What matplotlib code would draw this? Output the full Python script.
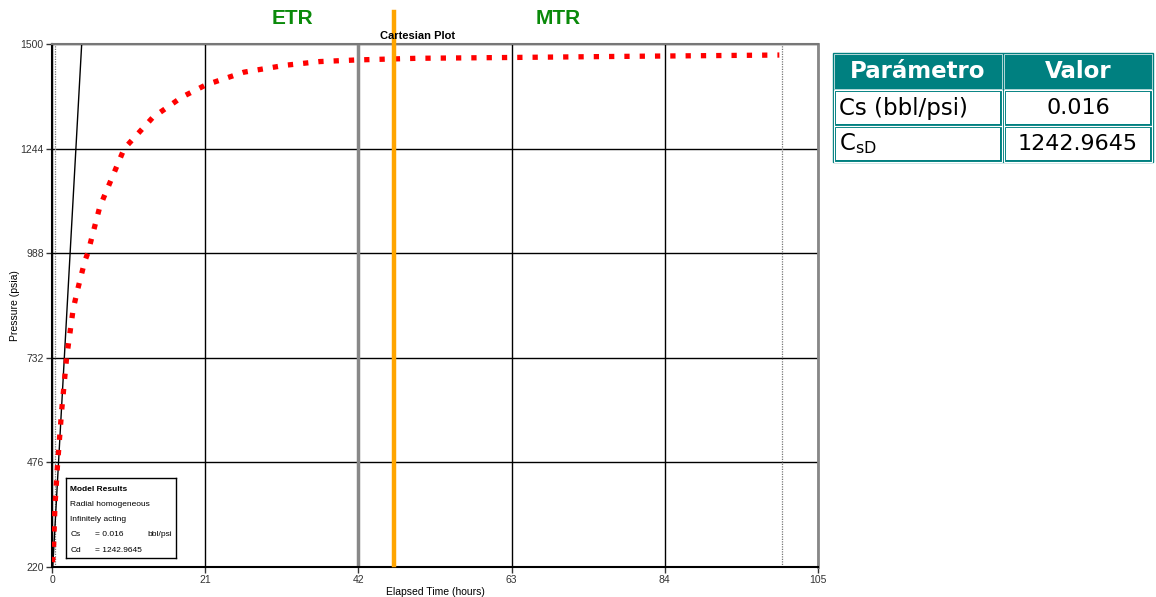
import matplotlib.pyplot as plt
from matplotlib.patches import Rectangle

plt.rcParams['font.family'] = ['Liberation Sans', 'DejaVu Sans']

# pressure buildup
t_hours = [0.05, 0.18, 0.4, 0.78, 1.33, 2.0, 2.9, 3.5, 4.5, 4.9, 6.5, 7.1, 9.9,
           13.8, 17.8, 21.1, 26.3, 27.6, 32.0, 36.7, 41.8, 50.0, 62.8, 80.0, 99.7]
pressure = [232, 249, 368, 476, 604, 732, 851, 898, 969, 988, 1098, 1125, 1244,
            1320, 1370, 1400, 1431, 1435, 1448, 1457, 1461, 1465, 1467, 1470, 1473]

# unit slope line
slope_t = [0.1, 4.07]
slope_p = [220, 1500]

x_ticks = [0, 21, 42, 63, 84, 105]
y_ticks = [220, 476, 732, 988, 1244, 1500]
t_etr_mtr = 46.9
dotted_marks = [0.4, 100.0]

table_head = ['Parámetro', 'Valor']
table_rows = [['Cs (bbl/psi)', '0.016'], ['C$_{\\mathregular{sD}}$', '1242.9645']]

W, H = 1156, 597
fig = plt.figure(figsize=(W / 100, H / 100), dpi=100)
ax = fig.add_axes([52 / W, 1 - 567 / H, (818 - 52) / W, (567 - 44) / H])

ax.set_xlim(0, 105)
ax.set_ylim(220, 1500)
ax.set_xticks(x_ticks)
ax.set_yticks(y_ticks)
ax.grid(True, color='black', lw=1)
ax.tick_params(labelsize=7.5, length=4, width=1, colors='#333333', pad=2)
ax.set_xlabel('Elapsed Time (hours)', fontsize=7.5, labelpad=1)
ax.set_ylabel('Pressure (psia)', fontsize=7.5, labelpad=0)
for s in ['left', 'bottom']:
    ax.spines[s].set_linewidth(1.5)
ax.spines['top'].set_color('#777777')
ax.spines['top'].set_linewidth(1.5)
ax.spines['right'].set_color('#888888')
ax.spines['right'].set_linewidth(2)

for d in dotted_marks:
    ax.axvline(d, color='#777777', lw=0.9, ls=(0, (1, 1)))
ax.axvline(42, color='#888888', lw=2.5)

ax.plot(slope_t, slope_p, color='black', lw=1)
ax.plot(t_hours, pressure, color='red', lw=3.8, ls=(0, (1, 1.9)),
        dash_capstyle='butt', zorder=4)

ax.axvline(t_etr_mtr, ymin=0.004, ymax=(567 - 12) / 523, color='#FFA500',
           lw=3.2, clip_on=False, zorder=5)

fig.text(418 / W, 1 - 36 / H, 'Cartesian Plot', fontsize=8, fontweight='bold',
         ha='center', va='center')
fig.text(292 / W, 1 - 19 / H, 'ETR', fontsize=15, fontweight='bold',
         color='#0A8A0A', ha='center', va='center')
fig.text(558 / W, 1 - 19 / H, 'MTR', fontsize=15, fontweight='bold',
         color='#0A8A0A', ha='center', va='center')

# model results box
bx = fig.add_axes([66 / W, 1 - 558 / H, (176 - 66) / W, (558 - 478) / H])
bx.set_xticks([])
bx.set_yticks([])
for s in bx.spines.values():
    s.set_linewidth(1)
box_lines = ['Radial homogeneous', 'Infinitely acting']
bx.text(0.04, 0.86, 'Model Results', fontsize=6, fontweight='bold', va='center',
        transform=bx.transAxes)
for i, line in enumerate(box_lines):
    bx.text(0.04, 0.67 - i * 0.19, line, fontsize=6, va='center', transform=bx.transAxes)
bx.text(0.04, 0.29, 'Cs', fontsize=6, va='center', transform=bx.transAxes)
bx.text(0.26, 0.29, '= 0.016', fontsize=6, va='center', transform=bx.transAxes)
bx.text(0.74, 0.29, 'bbl/psi', fontsize=6, va='center', transform=bx.transAxes)
bx.text(0.04, 0.10, 'Cd', fontsize=6, va='center', transform=bx.transAxes)
bx.text(0.26, 0.10, '= 1242.9645', fontsize=6, va='center', transform=bx.transAxes)

# parameter table
teal = '#008080'
tx0, tx1, tx2 = 833, 1003, 1153
ty = [53, 90, 126, 162]


def fx(px):
    return px / W


def fy(py):
    return 1 - py / H


fig.patches.append(Rectangle((fx(tx0), fy(ty[3])), fx(tx2) - fx(tx0), fy(ty[0]) - fy(ty[3]),
                             transform=fig.transFigure, color=teal, zorder=1))
for r in range(2):
    for c, (a, b) in enumerate([(tx0, tx1), (tx1, tx2)]):
        fig.patches.append(Rectangle((fx(a + 3), fy(ty[r + 2] - 2)), fx(b - a - 6), fy(0) - fy(ty[r + 2] - ty[r + 1] - 4),
                                     transform=fig.transFigure, facecolor='white',
                                     edgecolor='none', zorder=2))
        fig.patches.append(Rectangle((fx(a + 1), fy(ty[r + 2])), fx(b - a - 2), fy(0) - fy(ty[r + 2] - ty[r + 1]),
                                     transform=fig.transFigure, facecolor='none',
                                     edgecolor='white', lw=0.8, zorder=2))
fig.patches.append(Rectangle((fx(tx0 + 1), fy(ty[1] - 1)), fx(tx1 - tx0 - 2), fy(0) - fy(ty[1] - ty[0] - 2),
                             transform=fig.transFigure, facecolor='none',
                             edgecolor='#cfe5e5', lw=0.6, zorder=2))
fig.patches.append(Rectangle((fx(tx1 + 1), fy(ty[1] - 1)), fx(tx2 - tx1 - 2), fy(0) - fy(ty[1] - ty[0] - 2),
                             transform=fig.transFigure, facecolor='none',
                             edgecolor='#cfe5e5', lw=0.6, zorder=2))

fig.text(fx((tx0 + tx1) / 2), fy((ty[0] + ty[1]) / 2), table_head[0], family='DejaVu Sans',
         fontsize=16.5, fontweight='bold', color='white', ha='center', va='center', zorder=3)
fig.text(fx((tx1 + tx2) / 2), fy((ty[0] + ty[1]) / 2), table_head[1], family='DejaVu Sans',
         fontsize=16.5, fontweight='bold', color='white', ha='center', va='center', zorder=3)
for r, (name, val) in enumerate(table_rows):
    yc = fy((ty[r + 1] + ty[r + 2]) / 2)
    fig.text(fx(tx0 + 6), yc, name, family='DejaVu Sans', fontsize=16.5,
             ha='left', va='center', zorder=3)
    fig.text(fx((tx1 + tx2) / 2), yc, val, family='DejaVu Sans', fontsize=16,
             ha='center', va='center', zorder=3)

fig.savefig('out.png', dpi=100)
